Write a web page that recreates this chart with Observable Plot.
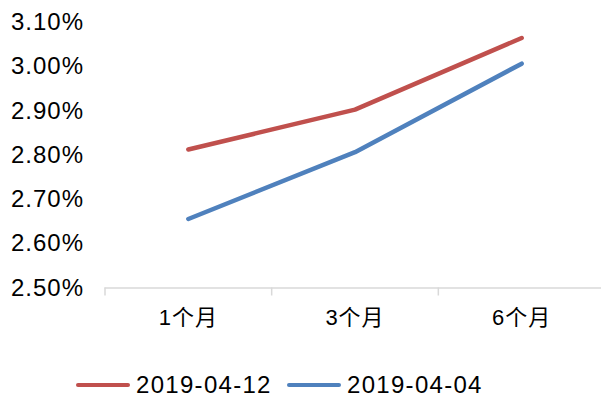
<!DOCTYPE html>
<html>
<head>
<meta charset="utf-8">
<script src="https://cdn.jsdelivr.net/npm/d3@7"></script>
<script src="https://cdn.jsdelivr.net/npm/@observablehq/plot@0.6"></script>
<style>
  html, body { margin: 0; padding: 0; background: #fff; }
  body { width: 601px; height: 405px; overflow: hidden; font-family: "Liberation Sans", Arial, "Noto Sans CJK SC", sans-serif; }
  #chart svg { display: block; }
  .legend { position: relative; height: 40px; font-size: 24px; letter-spacing: 1.3px; color: #000; }
  .legend .item { position: absolute; top: 0; display: flex; align-items: center; height: 40px; }
  .legend .sw { width: 54px; height: 4px; border-radius: 2px; margin-right: 6px; }
</style>
</head>
<body>
<div id="chart"></div>
<div class="legend" id="legend"></div>
<script>
// Tenors on the x axis
const tenors = ["1个月", "3个月", "6个月"];
// Series labels and colours
const seriesNames = ["2019-04-12", "2019-04-04"];
const seriesColors = ["#c0504d", "#4f81bd"];
// Rates (%) per tenor for each date
const rates0412 = [2.813, 2.903, 3.065];
const rates0404 = [2.656, 2.807, 3.007];
// Y axis ticks (%)
const yTicks = [2.5, 2.6, 2.7, 2.8, 2.9, 3.0, 3.1];

const rows = [];
[rates0412, rates0404].forEach((vals, s) => {
  vals.forEach((v, i) => rows.push({series: seriesNames[s], i, value: v}));
});

const chart = Plot.plot({
  width: 601,
  height: 365,
  marginTop: 22,
  marginBottom: 77.5,
  marginLeft: 104.5,
  marginRight: 0,
  style: {fontFamily: '"Liberation Sans", Arial, "Noto Sans CJK SC", sans-serif', fontSize: "24px", letterSpacing: "1px", color: "#000"},
  x: {type: "linear", domain: [-0.5, 2.5], range: [104.5, 604.5]},
  y: {domain: [2.5, 3.1]},
  color: {domain: seriesNames, range: seriesColors},
  marks: [
    Plot.axisY({ticks: yTicks, tickSize: 0, tickPadding: 21, tickFormat: d => d.toFixed(2) + "%", label: null}),
    Plot.axisX({ticks: [-0.5, 0.5, 1.5, 2.5], tickSize: 8, stroke: "#d9d9d9", strokeWidth: 1.5, tickFormat: () => "", label: null}),
    Plot.axisX({ticks: [0, 1, 2], tickSize: 0, tickPadding: 21, tickFormat: i => tenors[i], label: null, fontSize: "22px", fontFamily: '"Liberation Sans", "Noto Sans CJK SC", sans-serif'}),
    Plot.ruleY([2.5], {stroke: "#d9d9d9", strokeWidth: 1.5}),
    Plot.line(rows, {x: "i", y: "value", z: "series", stroke: "series", strokeWidth: 4.5, strokeLinecap: "round", strokeLinejoin: "round"})
  ]
});
document.getElementById("chart").appendChild(chart);

const legend = document.getElementById("legend");
const legendX = [76, 287];
seriesNames.forEach((name, k) => {
  const item = document.createElement("div");
  item.className = "item";
  item.style.left = legendX[k] + "px";
  const sw = document.createElement("span");
  sw.className = "sw";
  sw.style.background = seriesColors[k];
  item.appendChild(sw);
  item.appendChild(document.createTextNode(name));
  legend.appendChild(item);
});
</script>
</body>
</html>
